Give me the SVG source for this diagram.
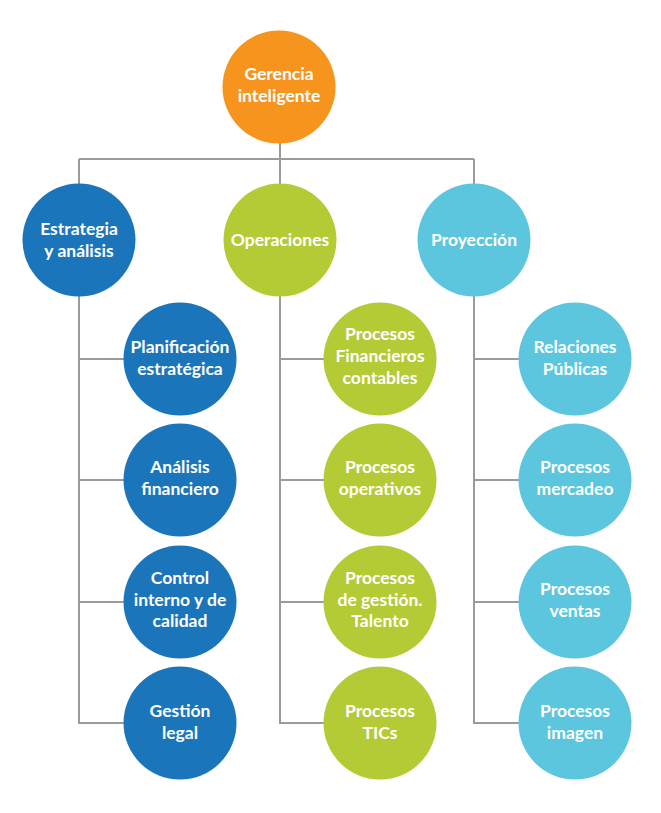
<svg xmlns="http://www.w3.org/2000/svg" width="661" height="813" viewBox="0 0 661 813">
<style>
.ln{stroke:#9b9b9b;stroke-width:2;fill:none}
.t{font-family:Lato,"Open Sans",sans-serif;font-weight:bold;font-size:17.5px;fill:#fff;text-anchor:middle}
.o{fill:#f7941d}.b{fill:#1b75bb}.g{fill:#b5cb35}.c{fill:#5cc6df}
</style>
<rect width="661" height="813" fill="#fff"/>
<g id="connectors">
<path class="ln" d="M280,140V159M79,159H474M79,159V723H180M280,159V723H380M474,159V723H575M79,359H180M79,480H180M79,602H180M280,359H380M280,480H380M280,602H380M474,359H575M474,480H575M474,602H575"/>
</g>
<g id="gerencia"><circle class="o" cx="279" cy="87" r="56.5"/><text class="t" x="279" y="80">Gerencia</text><text class="t" x="279" y="102">inteligente</text></g>
<g id="estrategia"><circle class="b" cx="79" cy="240" r="56.5"/><text class="t" x="79" y="235">Estrategia</text><text class="t" x="79" y="257">y análisis</text></g>
<g id="operaciones"><circle class="g" cx="280" cy="240" r="56.5"/><text class="t" x="280" y="246">Operaciones</text></g>
<g id="proyeccion"><circle class="c" cx="474" cy="240" r="56.5"/><text class="t" x="474" y="246">Proyección</text></g>
<g id="planificacion"><circle class="b" cx="180" cy="359" r="56.5"/><text class="t" x="180" y="353">Planificación</text><text class="t" x="180" y="375">estratégica</text></g>
<g id="analisis"><circle class="b" cx="180" cy="480" r="56.5"/><text class="t" x="180" y="473">Análisis</text><text class="t" x="180" y="495">financiero</text></g>
<g id="control"><circle class="b" cx="180" cy="602" r="56.5"/><text class="t" x="180" y="584">Control</text><text class="t" x="180" y="606">interno y de</text><text class="t" x="180" y="627">calidad</text></g>
<g id="gestion"><circle class="b" cx="180" cy="723" r="56.5"/><text class="t" x="180" y="717">Gestión</text><text class="t" x="180" y="739">legal</text></g>
<g id="financieros"><circle class="g" cx="380" cy="359" r="56.5"/><text class="t" x="380" y="340">Procesos</text><text class="t" x="380" y="362">Financieros</text><text class="t" x="380" y="384">contables</text></g>
<g id="operativos"><circle class="g" cx="380" cy="480" r="56.5"/><text class="t" x="380" y="473">Procesos</text><text class="t" x="380" y="495">operativos</text></g>
<g id="talento"><circle class="g" cx="380" cy="602" r="56.5"/><text class="t" x="380" y="584">Procesos</text><text class="t" x="380" y="606">de gestión.</text><text class="t" x="380" y="627">Talento</text></g>
<g id="tics"><circle class="g" cx="380" cy="723" r="56.5"/><text class="t" x="380" y="717">Procesos</text><text class="t" x="380" y="739">TICs</text></g>
<g id="relaciones"><circle class="c" cx="575" cy="359" r="56.5"/><text class="t" x="575" y="353">Relaciones</text><text class="t" x="575" y="375">Públicas</text></g>
<g id="mercadeo"><circle class="c" cx="575" cy="480" r="56.5"/><text class="t" x="575" y="473">Procesos</text><text class="t" x="575" y="495">mercadeo</text></g>
<g id="ventas"><circle class="c" cx="575" cy="602" r="56.5"/><text class="t" x="575" y="595">Procesos</text><text class="t" x="575" y="617">ventas</text></g>
<g id="imagen"><circle class="c" cx="575" cy="723" r="56.5"/><text class="t" x="575" y="717">Procesos</text><text class="t" x="575" y="739">imagen</text></g>
</svg>
